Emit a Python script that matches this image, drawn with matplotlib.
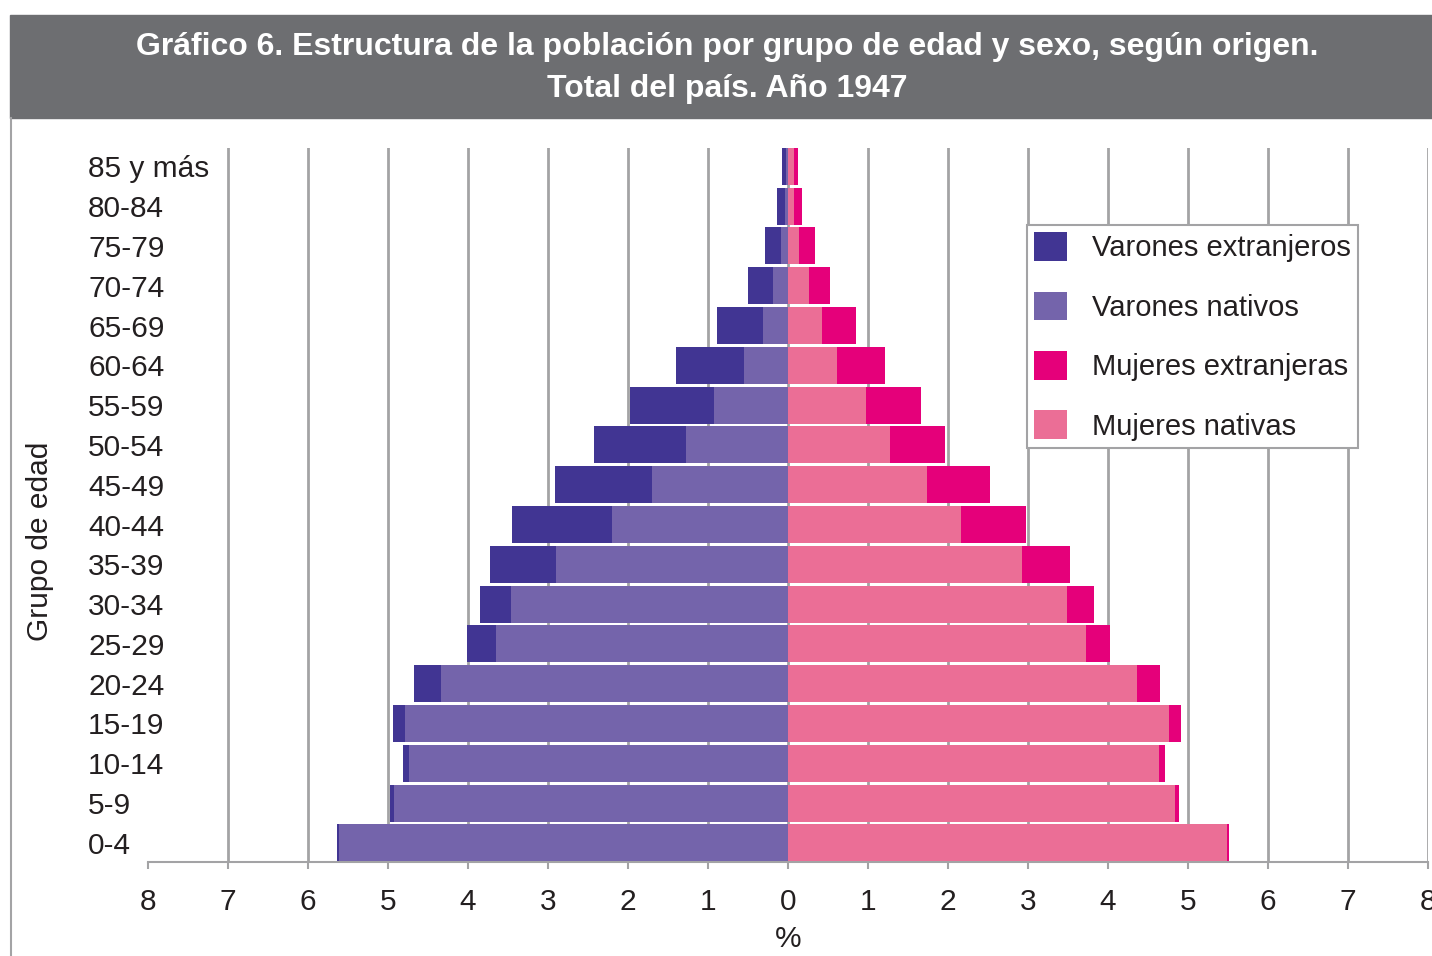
import matplotlib
matplotlib.use("Agg")
import matplotlib.pyplot as plt
import matplotlib.patches as mpatches
import numpy as np

plt.rcParams["font.family"] = ["Liberation Sans", "DejaVu Sans"]

# Age groups, bottom to top
grupos = ["0-4", "5-9", "10-14", "15-19", "20-24", "25-29", "30-34", "35-39",
          "40-44", "45-49", "50-54", "55-59", "60-64", "65-69", "70-74",
          "75-79", "80-84", "85 y más"]

# Percent of total population
varones_nativos = [5.61, 4.93, 4.74, 4.79, 4.34, 3.65, 3.46, 2.90,
                   2.20, 1.70, 1.28, 0.93, 0.55, 0.31, 0.19, 0.09, 0.04, 0.02]
varones_extranjeros = [0.03, 0.05, 0.07, 0.15, 0.34, 0.36, 0.39, 0.83,
                       1.25, 1.21, 1.14, 1.04, 0.85, 0.58, 0.31, 0.20, 0.10, 0.05]
mujeres_nativas = [5.49, 4.84, 4.64, 4.76, 4.36, 3.72, 3.49, 2.92,
                   2.16, 1.74, 1.27, 0.97, 0.61, 0.42, 0.26, 0.14, 0.07, 0.07]
mujeres_extranjeras = [0.02, 0.05, 0.07, 0.15, 0.29, 0.31, 0.34, 0.60,
                       0.81, 0.79, 0.69, 0.69, 0.60, 0.43, 0.27, 0.20, 0.10, 0.05]

colores = {"ve": "#413593", "vn": "#7464ab", "me": "#e5007a", "mn": "#eb6e96"}
gris = "#a3a3a5"
texto = "#231f20"

W, H = 1432, 956
fig = plt.figure(figsize=(W / 100, H / 100), dpi=100)

# Title banner
fig.patches.append(mpatches.Rectangle((10 / W, 1 - 118 / H), 1 - 10 / W, 103 / H,
                                      transform=fig.transFigure, color="#6d6e71", zorder=0))
fig.text(727 / W, 1 - 47 / H, "Gráfico 6. Estructura de la población por grupo de edad y sexo, según origen.",
         ha="center", va="center", color="white", fontsize=23, fontweight="bold")
fig.text(727 / W, 1 - 89 / H, "Total del país. Año 1947",
         ha="center", va="center", color="white", fontsize=23, fontweight="bold")
# Left frame line
fig.add_artist(plt.Line2D([10.5 / W, 10.5 / W], [0, 1 - 118 / H], color=gris, lw=1.5))

ax = fig.add_axes([148 / W, 1 - 862 / H, 1280 / W, 714 / H])
y = np.arange(len(grupos))
vn = np.array(varones_nativos)
ve = np.array(varones_extranjeros)
mn = np.array(mujeres_nativas)
me = np.array(mujeres_extranjeras)
h = 0.93

b_ve = ax.barh(y, -ve, left=-vn, height=h, color=colores["ve"], zorder=3)
b_vn = ax.barh(y, -vn, height=h, color=colores["vn"], zorder=3)
b_me = ax.barh(y, me, left=mn, height=h, color=colores["me"], zorder=3)
b_mn = ax.barh(y, mn, height=h, color=colores["mn"], zorder=3)

ax.set_xlim(-8, 8)
ax.set_ylim(-0.48, 17.46)
for xv in range(-7, 9):
    ax.axvline(xv, color=gris, lw=2, zorder=1)

ax.set_xticks(range(-8, 9))
ax.set_xticklabels([str(abs(v)) for v in range(-8, 9)])
ax.set_yticks(y)
ax.set_yticklabels(grupos)
for lab in ax.get_yticklabels():
    lab.set_horizontalalignment("left")
    lab.set_verticalalignment("center_baseline")
ax.tick_params(axis="y", length=0, pad=43.2, labelsize=21.5, labelcolor=texto)
ax.tick_params(axis="x", length=5, width=1.5, color=gris, pad=14, labelsize=21.5, labelcolor=texto)

for s in ["top", "left", "right"]:
    ax.spines[s].set_visible(False)
ax.spines["bottom"].set_color(gris)
ax.spines["bottom"].set_linewidth(1.5)

ax.set_xlabel("%", fontsize=21.5, color=texto, labelpad=6)
fig.text(40 / W, 1 - 541 / H, "Grupo de edad", rotation=90, ha="center", va="center",
         fontsize=21.5, color=texto)

leg = ax.legend([b_ve, b_vn, b_me, b_mn],
                ["Varones extranjeros", "Varones nativos", "Mujeres extranjeras", "Mujeres nativas"],
                loc="upper left", bbox_to_anchor=(1027 / W, 1 - 225 / H),
                bbox_transform=fig.transFigure, fontsize=21, frameon=True, fancybox=False,
                framealpha=1, edgecolor=gris, borderaxespad=0, borderpad=0.25,
                handlelength=1.13, handleheight=1.13, handletextpad=0.85, labelspacing=1.0)
leg.get_frame().set_linewidth(1.5)
for t in leg.get_texts():
    t.set_color(texto)

fig.savefig("out.png", dpi=100)
